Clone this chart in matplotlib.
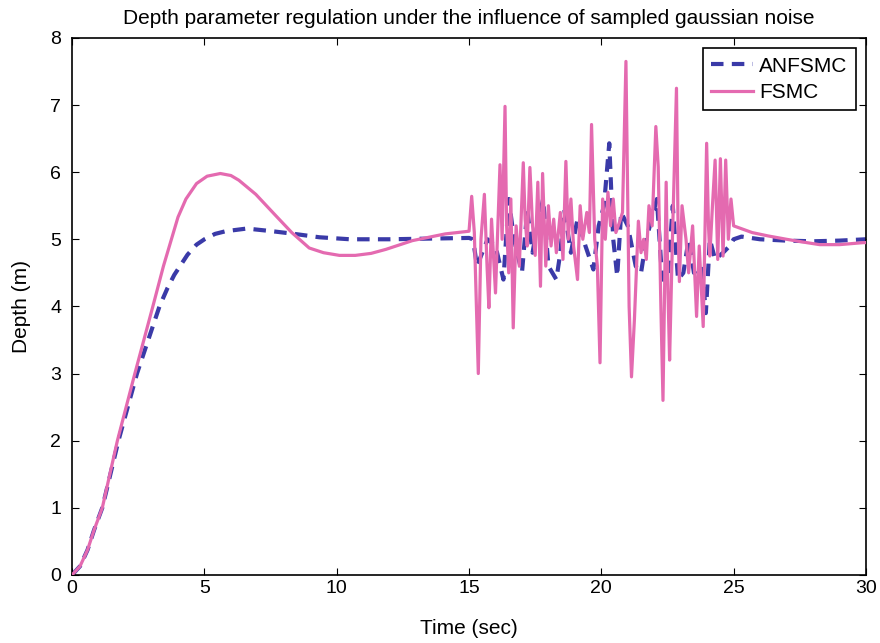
import matplotlib
matplotlib.use("Agg")
from matplotlib import pyplot as plt

# FSMC (solid pink) breakpoints
t_fsmc = [
    0, 0.3, 0.58, 0.83, 1.14, 1.71, 2.37, 3.05, 3.45, 3.75, 4.0, 4.3, 4.7, 5.1, 5.6, 6.0, 6.3,
    6.94, 7.7, 8.3, 8.96, 9.5, 10.1, 10.7, 11.3, 11.86, 12.86, 14.1, 15.0,
    15.1, 15.2, 15.35, 15.45, 15.58, 15.68, 15.75, 15.85, 16.0, 16.1, 16.17, 16.25, 16.36,
    16.42, 16.5, 16.58, 16.67, 16.78, 16.9, 17.05, 17.12, 17.2, 17.3, 17.4, 17.5, 17.6,
    17.7, 17.78, 17.9, 18.0, 18.1, 18.2, 18.3, 18.45, 18.55, 18.66, 18.75, 18.85, 18.95,
    19.1, 19.2, 19.3, 19.45, 19.55, 19.63, 19.75, 19.85, 19.95, 20.05, 20.15, 20.25, 20.35,
    20.45, 20.55, 20.7, 20.8, 20.93, 21.05, 21.14, 21.25, 21.4, 21.5, 21.6, 21.7, 21.8,
    21.92, 22.06, 22.15, 22.25, 22.33, 22.4, 22.45, 22.52, 22.58, 22.7, 22.84, 22.9, 22.95,
    23.05, 23.2, 23.3, 23.45, 23.55, 23.6, 23.7, 23.85, 23.98, 24.05, 24.1, 24.2, 24.3,
    24.4, 24.5, 24.6, 24.7, 24.8, 24.9, 25.0,
    25.7, 26.3, 27.0, 27.6, 28.25, 29.0, 29.9, 30.0,
]
d_fsmc = [
    0, 0.13, 0.37, 0.67, 1.0, 2.0, 3.0, 4.0, 4.6, 5.0, 5.33, 5.6, 5.83, 5.94, 5.98, 5.95, 5.88,
    5.67, 5.35, 5.1, 4.87, 4.8, 4.76, 4.76, 4.79, 4.85, 4.98, 5.08, 5.12,
    5.64, 5.1, 3.0, 5.0, 5.67, 4.6, 3.98, 5.3, 4.2, 5.34, 6.11, 5.0, 6.98,
    5.2, 4.5, 5.6, 3.68, 5.2, 4.6, 6.14, 5.3, 4.9, 6.07, 5.2, 4.76, 5.85,
    4.3, 5.98, 4.6, 5.5, 4.9, 5.3, 4.8, 5.4, 4.7, 6.16, 5.0, 5.6, 4.9,
    4.4, 5.5, 5.0, 5.4, 5.1, 6.71, 5.0, 4.6, 3.16, 5.6, 5.0, 5.7, 5.2,
    5.6, 5.1, 5.27, 5.4, 7.65, 4.0, 2.95, 3.8, 5.27, 4.8, 5.0, 4.7, 5.5,
    5.2, 6.68, 6.08, 4.0, 2.6, 4.5, 5.85, 4.2, 3.2, 5.2, 7.25, 5.2, 4.37,
    5.5, 5.0, 4.5, 5.2, 4.3, 3.85, 4.9, 3.7, 6.43, 5.2, 4.75, 5.5, 6.18,
    4.7, 6.2, 4.75, 6.18, 5.0, 5.6, 5.2,
    5.1, 5.05, 5.0, 4.96, 4.92, 4.92, 4.95, 4.95,
]

# ANFSMC (dashed blue) breakpoints
t_anfsmc = [
    0, 0.3, 0.58, 0.83, 1.14, 1.75, 2.45, 3.3, 3.6, 3.86, 4.36, 4.7, 5.0, 5.4, 5.8, 6.6, 7.56,
    8.4, 9.34, 10.5, 12.0, 13.5, 15.0,
    15.15, 15.3, 15.5, 15.7, 16.0, 16.3, 16.5, 16.7, 17.0, 17.2, 17.4, 17.6, 17.8, 18.0, 18.3,
    18.45, 18.6, 18.85, 19.1, 19.4, 19.7, 19.9, 20.1, 20.3, 20.45, 20.6, 20.75, 21.0, 21.3,
    21.5, 21.7, 21.9, 22.1, 22.3, 22.5, 22.7, 22.9, 23.1, 23.3, 23.5, 23.8, 23.95, 24.1,
    24.3, 24.6, 24.85, 25.0, 25.3, 26.0, 27.0, 28.0, 29.0, 30.0,
]
d_anfsmc = [
    0, 0.13, 0.37, 0.67, 1.0, 2.0, 3.0, 4.0, 4.27, 4.47, 4.77, 4.92, 5.0, 5.08, 5.12, 5.16, 5.12,
    5.08, 5.03, 5.0, 5.0, 5.01, 5.02,
    5.0, 4.6, 4.8, 5.0, 4.9, 4.4, 5.6, 5.0, 4.5, 5.44, 4.8, 5.25, 5.6, 4.6, 4.4,
    4.8, 5.44, 4.8, 5.3, 4.9, 4.55, 5.2, 5.5, 6.43, 5.0, 4.45, 5.4, 5.2, 4.6,
    4.5, 5.0, 5.3, 5.6, 4.4, 4.4, 5.5, 4.4, 4.5, 5.0, 4.5, 4.6, 3.9, 5.0,
    4.7, 4.8, 4.9, 5.0, 5.04, 5.0, 4.98, 4.97, 4.98, 5.0,
]

xticks = [0, 5, 10, 15, 20, 25, 30]
yticks = [0, 1, 2, 3, 4, 5, 6, 7, 8]

plt.rcParams["font.family"] = ["Liberation Sans", "DejaVu Sans"]

fig = plt.figure(figsize=(8.8, 6.43), dpi=100)
ax = fig.add_axes([0.082, 0.106, 0.902, 0.835])

ax.plot(t_anfsmc, d_anfsmc, color="#3a3aa8", lw=3, ls=(0, (3, 2)), label="ANFSMC", zorder=2)
ax.plot(t_fsmc, d_fsmc, color="#e46ab0", lw=2.3, label="FSMC", zorder=3)

ax.set_xlim(0, 30)
ax.set_ylim(0, 8)
ax.set_xticks(xticks)
ax.set_yticks(yticks)
ax.tick_params(direction="in", top=True, right=True, labelsize=14, length=5)
ax.tick_params(axis="y", pad=8)
for s in ax.spines.values():
    s.set_linewidth(1.2)

ax.set_xlabel("Time (sec)", fontsize=15, labelpad=16)
ax.set_ylabel("Depth (m)", fontsize=15, labelpad=14)
ax.set_title("Depth parameter regulation under the influence of sampled gaussian noise",
             fontsize=15, pad=10)

leg = ax.legend(loc="upper right", fontsize=15, fancybox=False, edgecolor="black",
                framealpha=1, handlelength=2, handletextpad=0.3, borderpad=0.4,
                labelspacing=0.35, borderaxespad=0.5)
leg.get_frame().set_linewidth(1.2)

fig.savefig("out.png", dpi=100)
